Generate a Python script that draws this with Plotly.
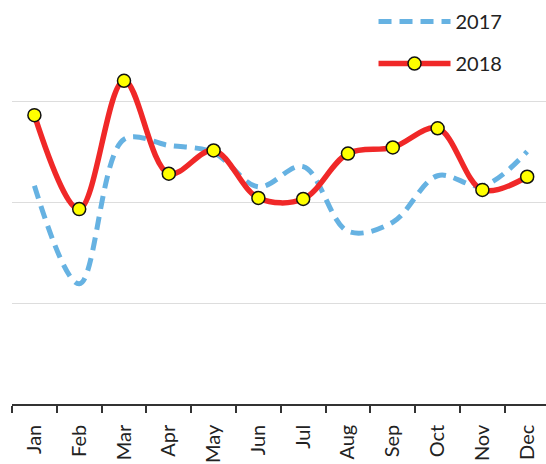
import plotly.graph_objects as go

months = ["Jan", "Feb", "Mar", "Apr", "May", "Jun",
          "Jul", "Aug", "Sep", "Oct", "Nov", "Dec"]
values_2017 = [21.6, 11.9, 26.2, 25.6, 24.9, 21.5, 23.5, 17.1, 18.0, 22.6, 21.6, 25.0]
values_2018 = [28.6, 19.3, 32.0, 22.8, 25.1, 20.4, 20.3, 24.8, 25.4, 27.3, 21.2, 22.5]

font_family = "Lato, 'Open Sans', sans-serif"

fig = go.Figure()
fig.add_trace(go.Scatter(
    x=months, y=values_2017, name="2017", mode="lines",
    line=dict(color="#66B2E2", width=5, dash="13px,8px", shape="spline"),
    legendgroup="a",
))
fig.add_trace(go.Scatter(
    x=months, y=values_2018, name="2018", mode="lines+markers",
    line=dict(color="#F02828", width=5.5, shape="spline"),
    marker=dict(color="#FFFF00", size=13, line=dict(color="#111111", width=1.5)),
    legendgroup="b",
))

fig.update_layout(
    width=546, height=464,
    margin=dict(l=12, r=0, t=0, b=60),
    plot_bgcolor="white", paper_bgcolor="white",
    font=dict(family=font_family, size=20, color="#222222"),
    showlegend=True,
    legend=dict(
        x=0.677, y=0.995, xanchor="left", yanchor="top",
        bgcolor="rgba(255,255,255,0)",
        font=dict(size=20, color="#222222"),
        itemwidth=72, tracegroupgap=13,
    ),
    xaxis=dict(
        type="category", showgrid=False, showline=True,
        linecolor="#333333", linewidth=1.5,
        ticks="outside", ticklen=7, tickwidth=1.5, tickcolor="#333333",
        tickson="boundaries", tickangle=-90, ticklabelstandoff=11,
        tickfont=dict(size=20, color="#222222"),
        range=[-0.5, 11.42],
    ),
    yaxis=dict(
        range=[0, 40], dtick=10, showgrid=True, gridcolor="#DDDDDD", gridwidth=1,
        showticklabels=False, showline=False, zeroline=False, ticks="",
    ),
)

fig.write_html("out.html")
